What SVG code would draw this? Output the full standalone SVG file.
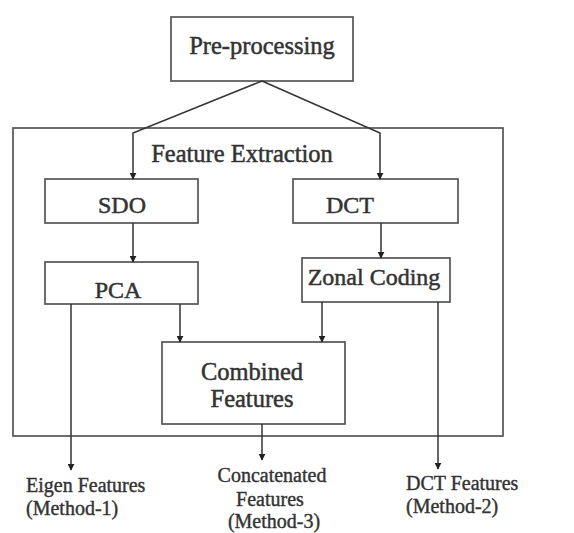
<svg xmlns="http://www.w3.org/2000/svg" width="574" height="533" viewBox="0 0 574 533">
  <defs>
    <marker id="arrow" viewBox="0 0 10 10" refX="9" refY="5" markerWidth="7" markerHeight="7" markerUnits="userSpaceOnUse" orient="auto">
      <path d="M0,0 L10,5 L0,10 z" fill="#222222"/>
    </marker>
  </defs>
  <style>
    .box { fill: #ffffff; stroke: #555555; stroke-width: 1.7; }
    .lbl { font-family: "Liberation Serif", "Times New Roman", serif; fill: #333333; stroke: #333333; stroke-width: 0.5; text-anchor: middle; }
    .out { font-family: "Liberation Serif", "Times New Roman", serif; fill: #333333; stroke: #333333; stroke-width: 0.4; font-size: 20px; }
    .edge { fill: none; stroke: #333333; stroke-width: 1.5; }
  </style>
  <rect width="574" height="533" fill="#ffffff"/>

  <!-- enclosing feature extraction stage -->
  <g id="feature-extraction">
    <rect class="box" x="13" y="128" width="490" height="308"/>
    <text class="lbl" x="242" y="162" font-size="24.5">Feature Extraction</text>
  </g>

  <g id="preprocessing">
    <rect class="box" x="171" y="17" width="182" height="64"/>
    <text class="lbl" x="262" y="54" font-size="24.5">Pre-processing</text>
  </g>

  <g id="sdo">
    <rect class="box" x="45" y="179" width="153" height="44"/>
    <text class="lbl" x="122" y="213" font-size="24">SDO</text>
  </g>

  <g id="dct">
    <rect class="box" x="293" y="179" width="165" height="44"/>
    <text class="lbl" x="350" y="213" font-size="24">DCT</text>
  </g>

  <g id="pca">
    <rect class="box" x="45" y="262" width="153" height="42"/>
    <text class="lbl" x="118" y="298" font-size="24">PCA</text>
  </g>

  <g id="zonal-coding">
    <rect class="box" x="302" y="258" width="148" height="44"/>
    <text class="lbl" x="374" y="285" font-size="24">Zonal Coding</text>
  </g>

  <g id="combined">
    <rect class="box" x="162" y="342" width="183" height="82"/>
    <text class="lbl" x="252" y="380" font-size="24.5">Combined</text>
    <text class="lbl" x="252" y="407" font-size="24.5">Features</text>
  </g>

  <g id="eigen-features">
    <text class="out" x="26" y="492">Eigen Features</text>
    <text class="out" x="26" y="515">(Method-1)</text>
  </g>

  <g id="concatenated-features">
    <text class="out" x="272" y="482" text-anchor="middle">Concatenated</text>
    <text class="out" x="270" y="506" text-anchor="middle">Features</text>
    <text class="out" x="274" y="528" text-anchor="middle">(Method-3)</text>
  </g>

  <g id="dct-features">
    <text class="out" x="406" y="490">DCT Features</text>
    <text class="out" x="406" y="513">(Method-2)</text>
  </g>

  <g id="connectors">
    <polyline class="edge" points="262,81 133,133 133,179" marker-end="url(#arrow)"/>
    <polyline class="edge" points="262,81 380,133 380,179" marker-end="url(#arrow)"/>
    <line class="edge" x1="133" y1="223" x2="133" y2="262" marker-end="url(#arrow)"/>
    <line class="edge" x1="381" y1="223" x2="381" y2="258" marker-end="url(#arrow)"/>
    <line class="edge" x1="180" y1="304" x2="180" y2="342" marker-end="url(#arrow)"/>
    <line class="edge" x1="322" y1="302" x2="322" y2="342" marker-end="url(#arrow)"/>
    <line class="edge" x1="71" y1="304" x2="71" y2="470" marker-end="url(#arrow)"/>
    <line class="edge" x1="438" y1="302" x2="438" y2="469" marker-end="url(#arrow)"/>
    <line class="edge" x1="262" y1="424" x2="262" y2="460" marker-end="url(#arrow)"/>
  </g>
</svg>
